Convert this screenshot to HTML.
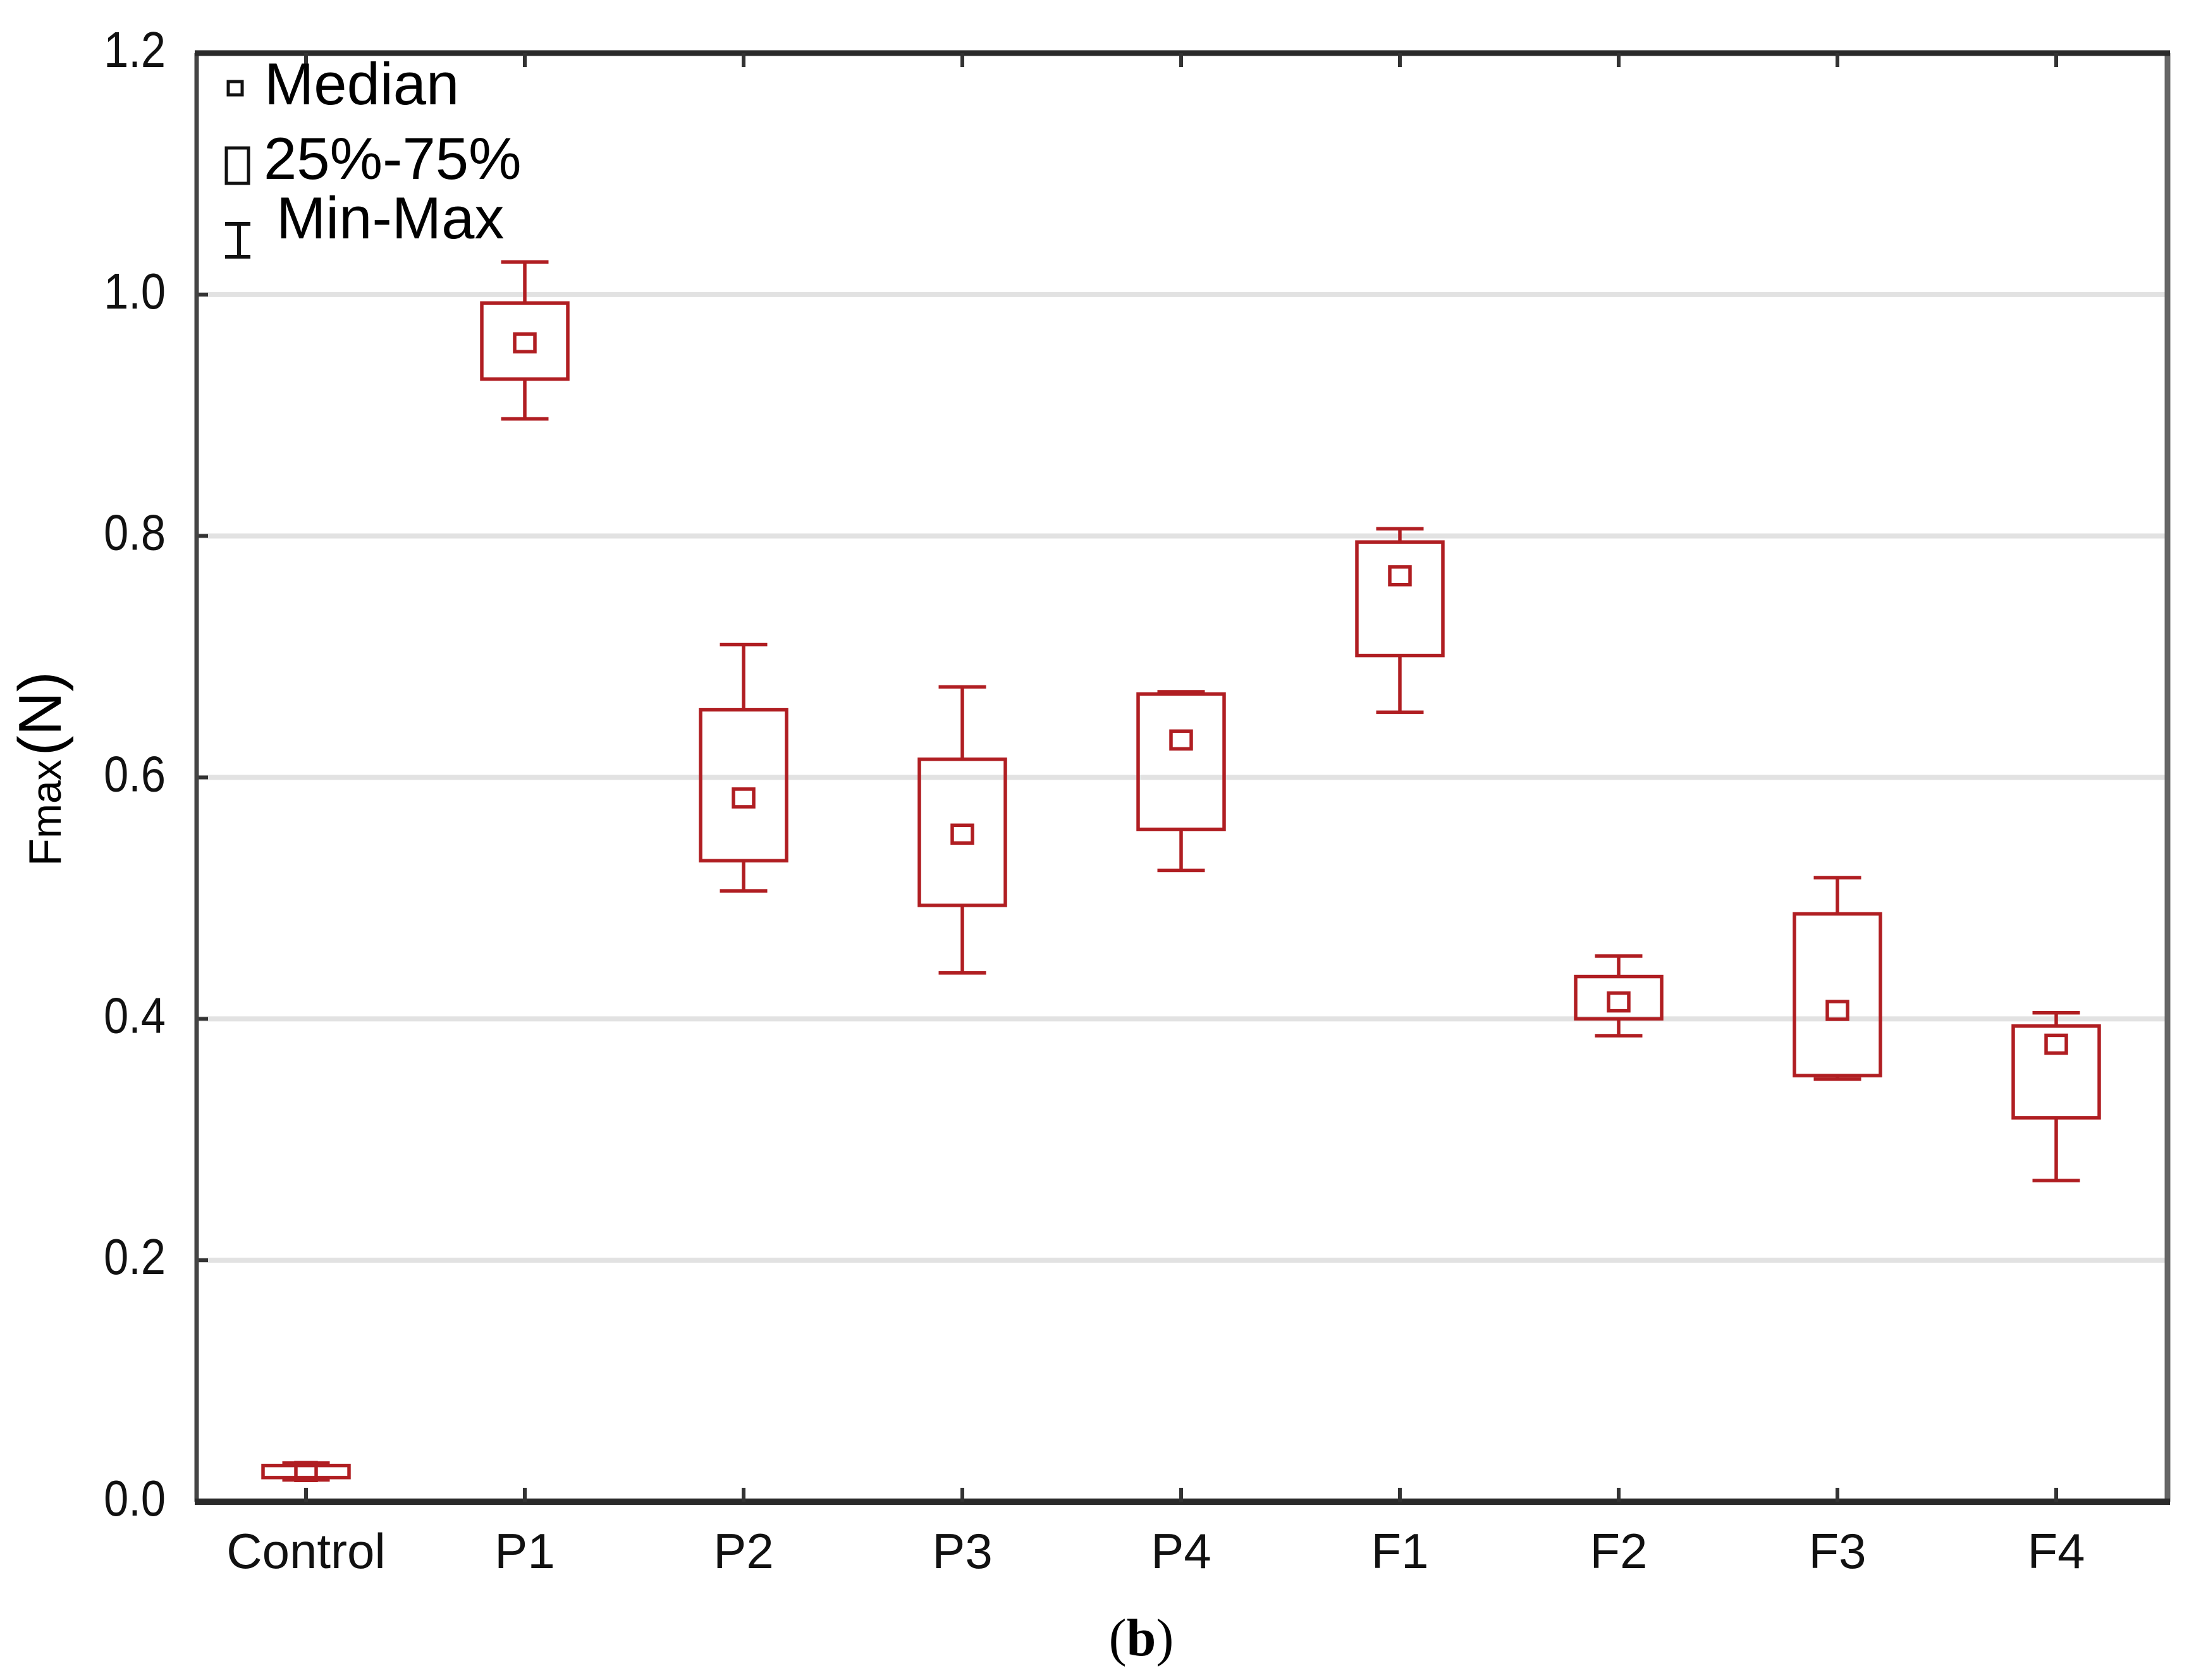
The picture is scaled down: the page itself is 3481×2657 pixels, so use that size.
<!DOCTYPE html>
<html><head><meta charset="utf-8"><style>
html,body{margin:0;padding:0;background:#fff;}
svg{display:block;}
text{font-family:"Liberation Sans",Arial,sans-serif;}
</style></head><body>
<svg id="chart" width="3481" height="2657" viewBox="0 0 3481 2657" xmlns="http://www.w3.org/2000/svg">
<g id="grid"></g>
<g id="axes"></g>
<g id="boxes"></g>
<g id="legend">
  <rect x="361" y="129" width="22" height="21" fill="none" stroke="#111" stroke-width="5"/>
  <text x="418" y="165" font-size="94" fill="#000">Median</text>
  <rect x="358" y="234" width="35" height="56" fill="none" stroke="#111" stroke-width="5"/>
  <text x="417" y="283" font-size="94" fill="#000">25%-75%</text>
  <g stroke="#111" stroke-width="6">
    <line x1="356" y1="354" x2="396" y2="354"/><line x1="378" y1="354" x2="378" y2="406"/><line x1="356" y1="406" x2="396" y2="406"/>
  </g>
  <text x="437" y="377" font-size="94" fill="#000">Min-Max</text>
</g>
<g transform="translate(96,1370) rotate(-90)">
  <text x="0" y="0" font-size="72" fill="#000"><tspan>F</tspan><tspan font-size="66">max</tspan><tspan font-size="96" dx="6">(N)</tspan></text>
</g>
<text x="1805" y="2618" font-size="84" text-anchor="middle" style="font-family:'Liberation Serif',serif" fill="#000">(<tspan font-weight="bold">b</tspan>)</text>
</svg>
<script>
const categories = ["Control","P1","P2","P3","P4","F1","F2","F3","F4"];
const minVals = [0.018,0.897,0.506,0.438,0.523,0.654,0.386,0.350,0.266];
const q1Vals  = [0.020,0.930,0.531,0.494,0.557,0.701,0.400,0.353,0.318];
const medVals = [0.025,0.960,0.583,0.553,0.631,0.767,0.414,0.407,0.379];
const q3Vals  = [0.030,0.993,0.656,0.615,0.669,0.795,0.435,0.487,0.394];
const maxVals = [0.032,1.027,0.710,0.675,0.671,0.806,0.452,0.517,0.405];
const yTicks = [0.0,0.2,0.4,0.6,0.8,1.0,1.2];
const yTickLabels = ["0.0","0.2","0.4","0.6","0.8","1.0","1.2"];

const NS="http://www.w3.org/2000/svg";
const L=311,R=3428,T=84,B=2375;
const X0=484,DX=346;
function xs(i){return X0+i*DX;}
function ys(v){return B-(v/1.2)*(B-T);}
function mk(tag,attrs,parent){const e=document.createElementNS(NS,tag);for(const k in attrs)e.setAttribute(k,attrs[k]);parent.appendChild(e);return e;}
const grid=document.getElementById('grid'),axes=document.getElementById('axes'),boxes=document.getElementById('boxes');
const RED="#b01e22";
yTicks.forEach((v,i)=>{
  if(v>0&&v<1.2){
    const g=mk('line',{x1:L,x2:R,y1:ys(v),y2:ys(v),stroke:"#e2e2e2","stroke-width":8},grid);
    
    
  }
  const t=mk('line',{x1:L,x2:L+18,y1:ys(v),y2:ys(v),stroke:"#333","stroke-width":6},axes);
  
  
  const lb=mk('text',{x:262,y:ys(v)+22,"font-size":80,"text-anchor":"end",fill:"#111",transform:"translate("+(262*0.12)+",0) scale(0.88,1)"},axes);
  lb.setAttribute('x',262/0.88- (262*0.12)/0.88);
  lb.textContent=yTickLabels[i];
  
  
});
let f;
f=mk('line',{x1:L,x2:L,y1:T,y2:B,stroke:"#444","stroke-width":7},axes);


f=mk('line',{x1:R,x2:R,y1:T,y2:B,stroke:"#666","stroke-width":9},axes);


f=mk('line',{x1:L-3,x2:R+4,y1:T,y2:T,stroke:"#2a2a2a","stroke-width":9},axes);


f=mk('line',{x1:L-3,x2:R+4,y1:B,y2:B,stroke:"#2a2a2a","stroke-width":10},axes);


categories.forEach((c,i)=>{
  const x=xs(i);
  let t=mk('line',{x1:x,x2:x,y1:B,y2:B-22,stroke:"#333","stroke-width":6},axes);
  
  
  t=mk('line',{x1:x,x2:x,y1:T,y2:T+22,stroke:"#333","stroke-width":6},axes);
  
  
  const lb=mk('text',{x:x,y:2480,"font-size":78,"text-anchor":"middle",fill:"#111"},axes);
  lb.textContent=c;
  
  
  const g=mk('g',{stroke:RED,"stroke-width":5.5,fill:"none"},boxes);
  
  
  const bw=136,cw=75;
  mk('line',{x1:x,x2:x,y1:ys(maxVals[i]),y2:ys(q3Vals[i])},g);
  mk('line',{x1:x,x2:x,y1:ys(q1Vals[i]),y2:ys(minVals[i])},g);
  mk('line',{x1:x-cw/2,x2:x+cw/2,y1:ys(maxVals[i]),y2:ys(maxVals[i])},g);
  mk('line',{x1:x-cw/2,x2:x+cw/2,y1:ys(minVals[i]),y2:ys(minVals[i])},g);
  const b=mk('rect',{x:x-bw/2,y:ys(q3Vals[i]),width:bw,height:Math.max(1,ys(q1Vals[i])-ys(q3Vals[i]))},g);
  
  
  const m=mk('rect',{x:x-16,y:ys(medVals[i])-14,width:32,height:28},g);
  
  
});
</script>
</body></html>
